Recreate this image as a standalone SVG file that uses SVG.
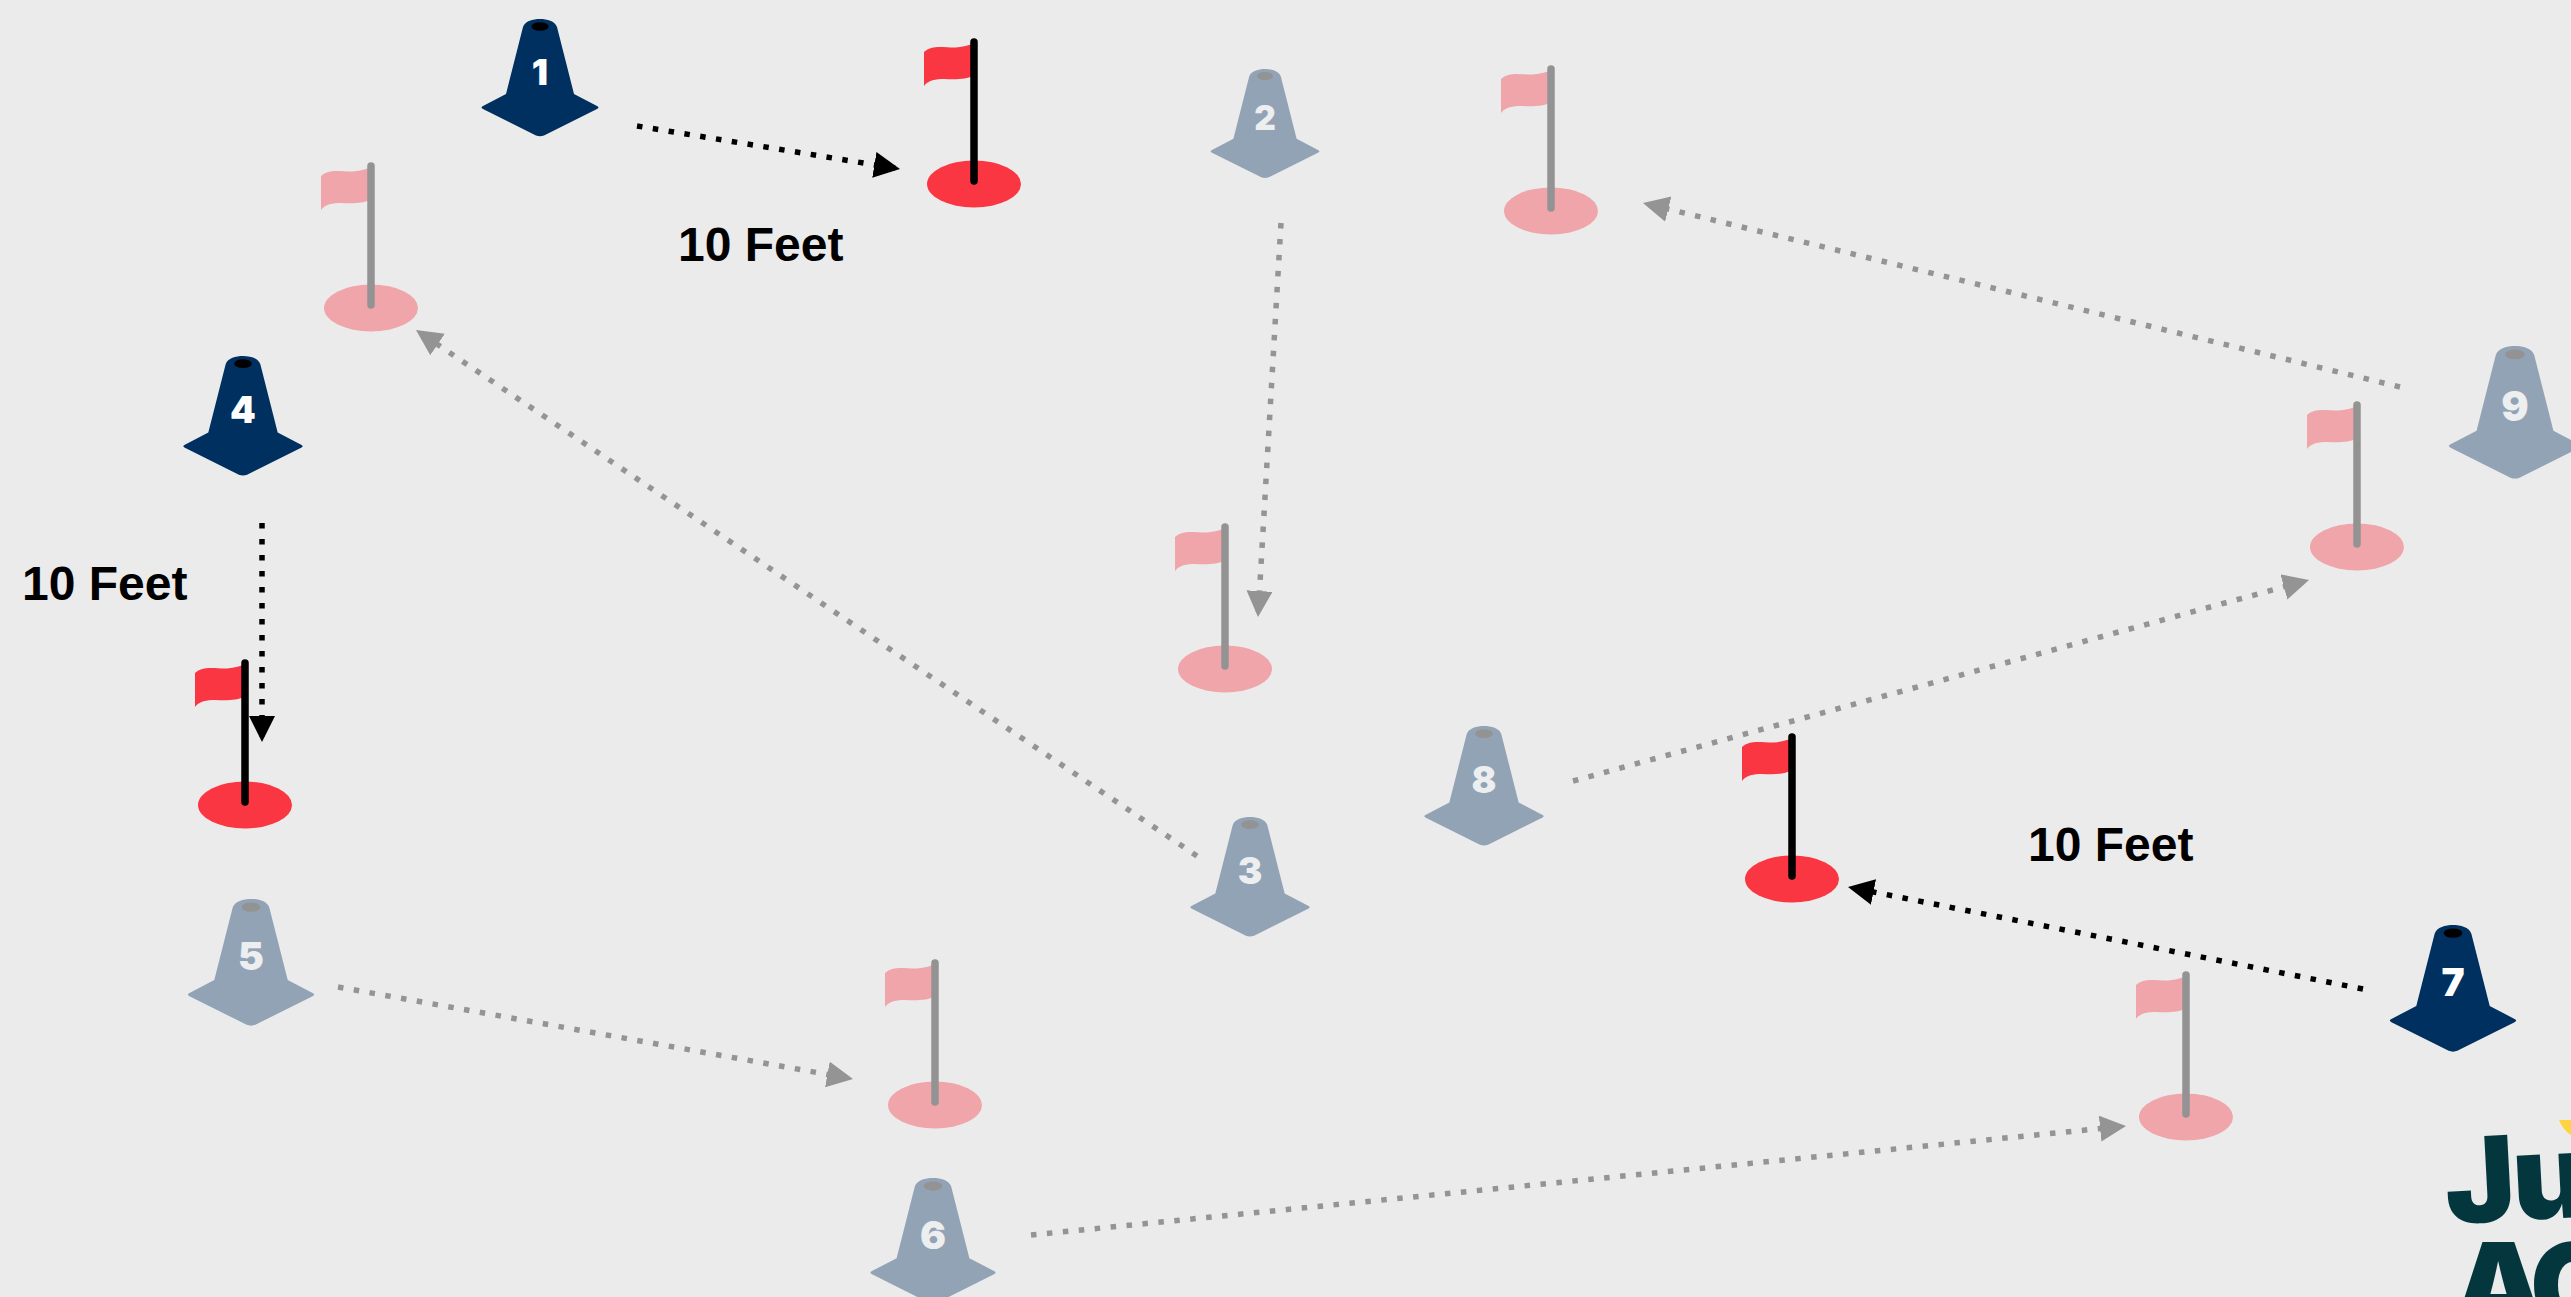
<svg xmlns="http://www.w3.org/2000/svg" width="2571" height="1297" viewBox="0 0 2571 1297">
<style>
.label{font:bold 48px "Liberation Sans",Arial,sans-serif;fill:#000}
.num{font:900 36px Inter,"Liberation Sans",sans-serif;text-anchor:middle}
.logo{font:900 118px Inter,"Liberation Sans",sans-serif;fill:#03363d}
.d{fill:none;stroke-width:5.500;stroke-dasharray:5.500 10.500}
.k{stroke:#000;marker-end:url(#ak)}
.g{stroke:#949494;marker-end:url(#ag)}
.pole{stroke-width:7.500;stroke-linecap:round}
</style>
<defs>
<marker id="ak" markerUnits="userSpaceOnUse" markerWidth="30" markerHeight="30" refX="26" refY="13" orient="auto"><path d="M0 0L26 13L0 26Z" fill="#000"/></marker>
<marker id="ag" markerUnits="userSpaceOnUse" markerWidth="30" markerHeight="30" refX="26" refY="13" orient="auto"><path d="M0 0L26 13L0 26Z" fill="#949494"/></marker>
<path id="coneShape" d="M-17 8C-15 2 -7 0 0 0C7 0 15 2 17 8L34 75L57 87Q60 88.500 57 90L4 116.500Q0 118 -4 116.500L-57 90Q-60 88.500 -57 87L-34 75Z"/>
<path id="flagCloth" d="M0 5C-4 7 -10 9 -18 9.500C-28 10 -42 6 -50 14V48C-46 42 -38 41 -30 41C-20 41.500 -8 42 0 37Z"/>
</defs>
<rect width="2571" height="1297" fill="#ebebeb"/>
<g id="connectors">
<path class="d k" d="M637 126L900 169"/>
<path class="d k" d="M262 523V742"/>
<path class="d g" d="M1281 223L1258 617"/>
<path class="d g" d="M1197 856L416 330"/>
<path class="d g" d="M2400 387L1643 203"/>
<path class="d g" d="M1573 781L2309 580"/>
<path class="d k" d="M2363 989L1848 887"/>
<path class="d g" d="M338 987L853 1079"/>
<path class="d g" d="M1031 1235L2126 1126"/>
</g>
<g id="flag-1" transform="translate(974 38)"><ellipse cx="0" cy="146" rx="47" ry="23.500" fill="#f93641"/><use href="#flagCloth" fill="#f93641"/><path class="pole" d="M0 4V143" stroke="#000"/></g>
<g id="flag-2" transform="translate(371 162)"><ellipse cx="0" cy="146" rx="47" ry="23.500" fill="#f0a5aa"/><use href="#flagCloth" fill="#f0a5aa"/><path class="pole" d="M0 4V143" stroke="#939393"/></g>
<g id="flag-3" transform="translate(245 659)"><ellipse cx="0" cy="146" rx="47" ry="23.500" fill="#f93641"/><use href="#flagCloth" fill="#f93641"/><path class="pole" d="M0 4V143" stroke="#000"/></g>
<g id="flag-4" transform="translate(1551 65)"><ellipse cx="0" cy="146" rx="47" ry="23.500" fill="#f0a5aa"/><use href="#flagCloth" fill="#f0a5aa"/><path class="pole" d="M0 4V143" stroke="#939393"/></g>
<g id="flag-5" transform="translate(1225 523)"><ellipse cx="0" cy="146" rx="47" ry="23.500" fill="#f0a5aa"/><use href="#flagCloth" fill="#f0a5aa"/><path class="pole" d="M0 4V143" stroke="#939393"/></g>
<g id="flag-6" transform="translate(2357 401)"><ellipse cx="0" cy="146" rx="47" ry="23.500" fill="#f0a5aa"/><use href="#flagCloth" fill="#f0a5aa"/><path class="pole" d="M0 4V143" stroke="#939393"/></g>
<g id="flag-7" transform="translate(1792 733)"><ellipse cx="0" cy="146" rx="47" ry="23.500" fill="#f93641"/><use href="#flagCloth" fill="#f93641"/><path class="pole" d="M0 4V143" stroke="#000"/></g>
<g id="flag-8" transform="translate(935 959)"><ellipse cx="0" cy="146" rx="47" ry="23.500" fill="#f0a5aa"/><use href="#flagCloth" fill="#f0a5aa"/><path class="pole" d="M0 4V143" stroke="#939393"/></g>
<g id="flag-9" transform="translate(2186 971)"><ellipse cx="0" cy="146" rx="47" ry="23.500" fill="#f0a5aa"/><use href="#flagCloth" fill="#f0a5aa"/><path class="pole" d="M0 4V143" stroke="#939393"/></g>
<g id="cone-1" transform="translate(540 19)"><use href="#coneShape" fill="#00305f"/><ellipse cy="7.500" rx="8.700" ry="4.300" fill="#000"/><text class="num" y="66" fill="#fff">1</text></g>
<g id="cone-2" transform="translate(1265 69) scale(.93)"><use href="#coneShape" fill="#92a3b5"/><ellipse cy="7.500" rx="8.700" ry="4.300" fill="#939393"/><text class="num" y="66" fill="#eceef0">2</text></g>
<g id="cone-3" transform="translate(1250 817) scale(1.02)"><use href="#coneShape" fill="#92a3b5"/><ellipse cy="7.500" rx="8.700" ry="4.300" fill="#939393"/><text class="num" y="66" fill="#eceef0">3</text></g>
<g id="cone-4" transform="translate(243 356) scale(1.02)"><use href="#coneShape" fill="#00305f"/><ellipse cy="7.500" rx="8.700" ry="4.300" fill="#000"/><text class="num" y="66" fill="#fff">4</text></g>
<g id="cone-5" transform="translate(251 899) scale(1.08)"><use href="#coneShape" fill="#92a3b5"/><ellipse cy="7.500" rx="8.700" ry="4.300" fill="#939393"/><text class="num" y="66" fill="#eceef0">5</text></g>
<g id="cone-6" transform="translate(933 1178) scale(1.07)"><use href="#coneShape" fill="#92a3b5"/><ellipse cy="7.500" rx="8.700" ry="4.300" fill="#939393"/><text class="num" y="66" fill="#eceef0">6</text></g>
<g id="cone-7" transform="translate(2453 925) scale(1.08)"><use href="#coneShape" fill="#00305f"/><ellipse cy="7.500" rx="8.700" ry="4.300" fill="#000"/><text class="num" y="66" fill="#fff">7</text></g>
<g id="cone-8" transform="translate(1484 726) scale(1.02)"><use href="#coneShape" fill="#92a3b5"/><ellipse cy="7.500" rx="8.700" ry="4.300" fill="#939393"/><text class="num" y="66" fill="#eceef0">8</text></g>
<g id="cone-9" transform="translate(2515 346) scale(1.13)"><use href="#coneShape" fill="#92a3b5"/><ellipse cy="7.500" rx="8.700" ry="4.300" fill="#939393"/><text class="num" y="66" fill="#eceef0">9</text></g>
<text class="label" x="678" y="261">10 Feet</text>
<text class="label" x="22" y="600">10 Feet</text>
<text class="label" x="2028" y="861">10 Feet</text>
<g id="logo">
<path d="M2559 1120H2571V1135Q2563 1130 2559 1120Z" fill="#ffd23f"/>
<text class="logo" transform="rotate(-3 2447 1224)" x="2447" y="1224" letter-spacing="-3">Ju</text>
<text class="logo" x="2452" y="1328" letter-spacing="-10">AC</text>
</g>
</svg>
